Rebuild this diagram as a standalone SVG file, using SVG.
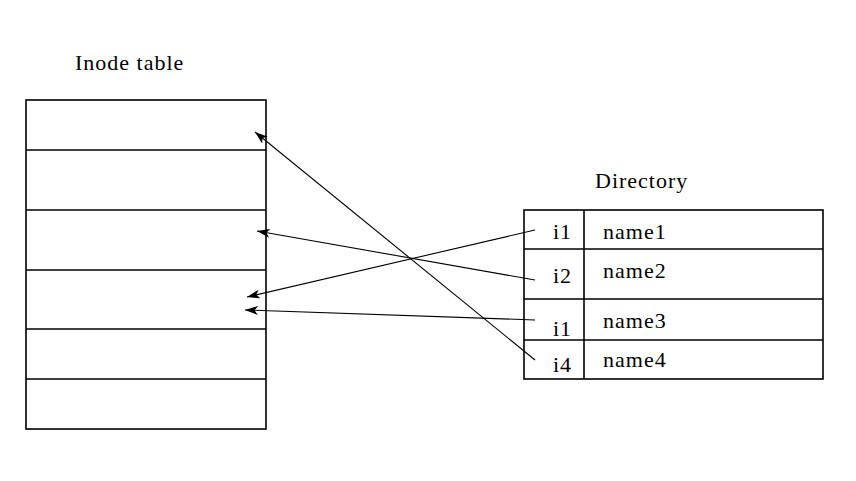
<svg xmlns="http://www.w3.org/2000/svg" width="856" height="481" viewBox="0 0 856 481">
<style>
.t{font-family:"Liberation Serif","Times New Roman",serif;font-size:22px;letter-spacing:1px;fill:#000}
.box{fill:none;stroke:#000;stroke-width:1.6}
.ln{stroke:#000;stroke-width:1.6}
.c{stroke:#000;stroke-width:1.1;fill:none}
</style>
<defs>
<marker id="ah" viewBox="0 0 13 9" refX="13" refY="4.5" markerWidth="13" markerHeight="9" markerUnits="userSpaceOnUse" orient="auto">
<path d="M13,4.5 L0,0 L3.5,4.5 L0,9 Z" fill="#000"/>
</marker>
</defs>
<rect width="856" height="481" fill="#fff"/>
<g id="inode-table">
<text class="t" x="75" y="70">Inode table</text>
<rect class="box" x="26" y="100" width="240" height="329"/>
<line class="ln" x1="26" y1="150" x2="266" y2="150"/>
<line class="ln" x1="26" y1="210" x2="266" y2="210"/>
<line class="ln" x1="26" y1="270" x2="266" y2="270"/>
<line class="ln" x1="26" y1="329" x2="266" y2="329"/>
<line class="ln" x1="26" y1="379" x2="266" y2="379"/>
</g>
<g id="directory">
<text class="t" x="595" y="188">Directory</text>
<rect class="box" x="524" y="210" width="299" height="169"/>
<line class="ln" x1="524" y1="249" x2="823" y2="249"/>
<line class="ln" x1="524" y1="299" x2="823" y2="299"/>
<line class="ln" x1="524" y1="340" x2="823" y2="340"/>
<line class="ln" x1="584" y1="210" x2="584" y2="379"/>
<text class="t" x="553" y="239">i1</text>
<text class="t" x="603" y="239">name1</text>
<text class="t" x="553" y="283">i2</text>
<text class="t" x="603" y="278">name2</text>
<text class="t" x="553" y="336">i1</text>
<text class="t" x="603" y="328">name3</text>
<text class="t" x="553" y="372">i4</text>
<text class="t" x="603" y="367">name4</text>
</g>
<g id="connectors">
<line class="c" x1="535" y1="360" x2="255" y2="132" marker-end="url(#ah)"/>
<line class="c" x1="535" y1="280" x2="257" y2="231" marker-end="url(#ah)"/>
<line class="c" x1="535" y1="230" x2="247" y2="297" marker-end="url(#ah)"/>
<line class="c" x1="535" y1="320" x2="245" y2="310" marker-end="url(#ah)"/>
</g>
</svg>
